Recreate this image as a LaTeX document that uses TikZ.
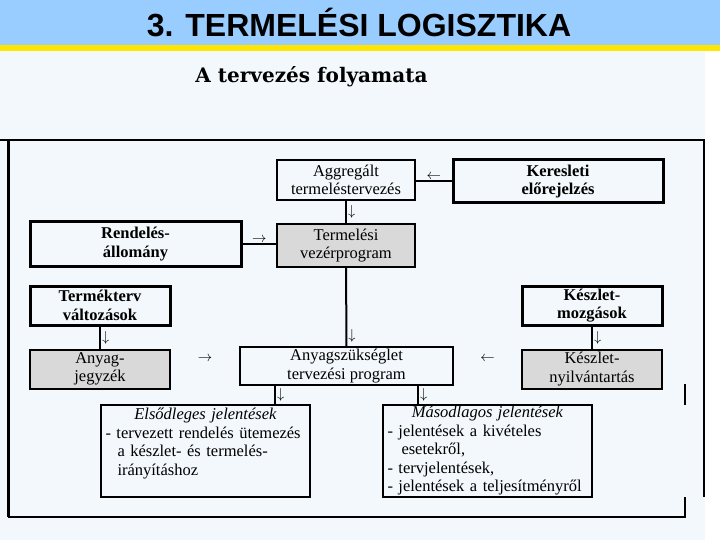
\documentclass[tikz,border=0pt]{standalone}
\usepackage{fontspec}
\setmainfont{Liberation Serif}
\newfontfamily\titlefont{Liberation Sans}
\newfontfamily\headfont{DejaVu Serif}
\usetikzlibrary{positioning}
\definecolor{titleblue}{RGB}{153,204,255}
\definecolor{stripeyellow}{RGB}{255,230,0}
\definecolor{paleblue}{RGB}{242,248,251}
\definecolor{boxgray}{RGB}{217,217,217}

\begin{document}
\begin{tikzpicture}[
    x=1pt, y=-1pt,
    every node/.style={font=\fontsize{16.5}{18.5}\selectfont},
    box/.style={rectangle, draw=black, line width=2pt, fill=paleblue, align=center, inner sep=2pt},
    keybox/.style={box, line width=3pt, font=\fontsize{16.5}{18.5}\selectfont\bfseries},
    databox/.style={box, fill=boxgray},
    report/.style={box, text width=200pt, inner xsep=4.5pt, inner ysep=0pt, minimum height=92pt, align=left},
    link/.style={line width=2pt},
    tip/.style={inner sep=1pt, font=\fontsize{15}{15}\selectfont},
  ]
  \useasboundingbox (0,0) rectangle (720,540);
  % page background and title bar
  \fill[white] (0,0) rectangle (720,540);
  \fill[paleblue] (0,50) rectangle (705,540);
  \fill[titleblue] (0,0) rectangle (720,46);
  \fill[stripeyellow] (0,45) rectangle (720,51);
  \node[font=\titlefont\bfseries\fontsize{32}{32}\selectfont] (title) at (359,23) {3. TERMELÉSI LOGISZTIKA};
  \node[font=\headfont\bfseries\fontsize{20}{20}\selectfont] (subtitle) at (311.5,77) {A tervezés folyamata};

  % outer frame
  \draw[line width=1.3pt] (0,140) -- (704,140) -- (704,497);
  \draw[line width=3pt] (8,140) -- (8,517);
  \draw[line width=2.5pt] (8,517) -- (685,517) -- (685,497);
  \draw[line width=2.5pt] (685,384) -- (685,405);

  % planning boxes
  \node[box, minimum width=138pt, minimum height=40pt] (agg) at (346,180) {Aggregált\\termeléstervezés};
  \node[keybox, minimum width=210pt, minimum height=43pt] (ker) at (558,181.5) {Keresleti\\előrejelzés};
  \node[databox, minimum width=138pt, minimum height=43pt, below=22pt of agg] (vez) {Termelési\\vezérprogram};
  \node[keybox, minimum width=211pt, minimum height=44pt] (rend) at (135.5,244) {Rendelés-\\állomány};
  \node[keybox, minimum width=140pt, minimum height=39pt] (term) at (100,305.5) {Termékterv\\változások};
  \node[keybox, minimum width=140pt, minimum height=39pt] (kmozg) at (592,305.5) {Készlet-\\mozgások};
  \node[databox, minimum width=140pt, minimum height=39pt, below=22pt of term] (ajegy) {Anyag-\\jegyzék};
  \node[box, minimum width=213pt, minimum height=38pt] (aszp) at (346.5,366) {Anyagszükséglet\\tervezési program};
  \node[databox, minimum width=140pt, minimum height=39pt, below=22pt of kmozg] (knyilv) {Készlet-\\nyilvántartás};

  % reports
  \node[report] (elso) at (205.5,451) {\centering\textit{Elsődleges jelentések}\par\raggedright
    - tervezett rendelés ütemezés\\\hspace*{12pt}a készlet- és termelés-\\\hspace*{12pt}irányításhoz\\\mbox{}};
  \node[report] (maso) at (487.5,451) {\centering\textit{Másodlagos jelentések}\par\raggedright
    - jelentések a kivételes\\\hspace*{14pt}esetekről,\\- tervjelentések,\\- jelentések a teljesítményről};

  % connectors
  \draw[link] (ker.west) -- node[above, tip] {$\leftarrow$} (ker.west -| agg.east);
  \draw[link] (agg) -- node[right, tip] {$\downarrow$} (vez);
  \draw[link] (rend.east) -- node[above, tip] {$\rightarrow$} (rend.east -| vez.west);
  \draw[link] (vez) -- node[pos=0.87, right, tip] {$\downarrow$} (aszp);
  \draw[link] (term) -- node[right, tip] {$\downarrow$} (ajegy);
  \draw[link] (kmozg) -- node[right, tip] {$\downarrow$} (knyilv);
  \path (ajegy.east) -- node[tip, yshift=9pt] {$\rightarrow$} (aszp.west);
  \path (knyilv.west) -- node[tip, yshift=9pt] {$\leftarrow$} (aszp.east);
  \draw[link] ([xshift=-71.5pt]aszp.south) -- node[right, tip] {$\downarrow$} ([xshift=-71.5pt]aszp.south |- elso.north);
  \draw[link] ([xshift=71.5pt]aszp.south) -- node[right, tip] {$\downarrow$} ([xshift=71.5pt]aszp.south |- maso.north);
\end{tikzpicture}
\end{document}
